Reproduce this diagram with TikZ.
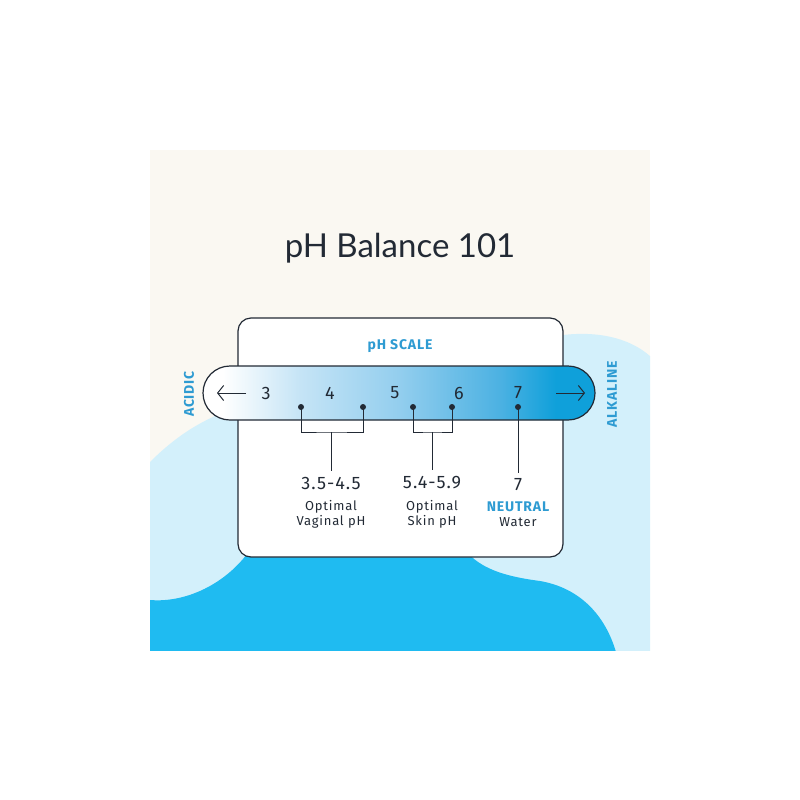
\documentclass[tikz,border=0pt]{standalone}
\usepackage{fontspec}
\setmainfont{Fira Sans}
\newfontfamily\titlefont{Lato}
\newfontfamily\scalefont[LetterSpace=6]{Fira Sans}
\usetikzlibrary{positioning, arrows.meta}

\definecolor{cream}{HTML}{FAF8F2}
\definecolor{pale}{HTML}{D3F0FB}
\definecolor{deep}{HTML}{1FBBF1}
\definecolor{ink}{HTML}{222A35}
\definecolor{tagblue}{HTML}{2E9BD2}
\definecolor{barA}{HTML}{C5E4F6}
\definecolor{barB}{HTML}{93CEEE}
\definecolor{barC}{HTML}{4BB1E2}
\definecolor{barD}{HTML}{0FA0DA}

\pgfdeclarehorizontalshading{phbar}{100bp}{color(0bp)=(white); color(27.5bp)=(white);
  color(37.4bp)=(barA); color(50bp)=(barB); color(63bp)=(barC); color(70bp)=(barD); color(100bp)=(barD)}

\tikzset{
  num/.style={font=\scalefont\fontsize{18}{20}\selectfont, text=ink},
  rangebox/.style={font=\scalefont\fontsize{18}{20}\selectfont, text=ink, inner sep=6pt},
  small/.style={font=\scalefont\fontsize{13}{15}\selectfont, text=ink},
  tag/.style={font=\scalefont\bfseries\fontsize{14}{16}\selectfont, text=tagblue},
  dot/.style={circle, fill=ink, inner sep=0pt, minimum size=6pt},
  wire/.style={draw=ink, line width=1pt},
}

\begin{document}
\begin{tikzpicture}[x=1pt, y=-1pt, node distance=15pt, on grid]
    \useasboundingbox (0,0) rectangle (800,800);

    % background panel and blobs
    \begin{scope}
        \clip (150,150) rectangle (650,650);
        \fill[cream] (150,150) rectangle (650,650);
        \fill[pale] (150,462) .. controls (180,432) and (215,410) .. (262,402)
            -- (262,650) -- (150,650) -- cycle;
        \fill[pale] (430,360) -- (520,345) .. controls (575,326) and (625,332) .. (652,358)
            -- (652,652) -- (430,652) -- cycle;
        \fill[deep] (150,600) .. controls (186,603) and (226,584) .. (250,550)
            -- (465,550) .. controls (480,568) and (502,576) .. (540,581)
            .. controls (580,588) and (605,615) .. (616,652)
            -- (150,652) -- cycle;
    \end{scope}

    \node[font=\titlefont\fontsize{33}{36}\selectfont, text=ink] (title) at (400,248) {pH Balance 101};

    % card and scale bar
    \draw[fill=white, draw=ink, line width=1.2pt, rounded corners=13pt] (238,318) rectangle (563,557);
    \shadedraw[shading=phbar, draw=ink, line width=1.2pt, rounded corners=27pt] (203,366) rectangle (595,420);

    \node[tag] (scale) at (400,346) {pH SCALE};
    \node[tag, rotate=90] (acid) at (189,394) {ACIDIC};
    \node[tag, rotate=90] (alk) at (612,394) {ALKALINE};

    \node[num] (n3) at (266,393) {3};
    \node[num] (n4) at (330,393) {4};
    \node[num] (n5) at (395,393) {5};
    \node[num] (n6) at (459,393) {6};
    \node[num] (n7) at (518,393) {7};

    \coordinate (la1) at (246,393);
    \coordinate (la2) at (217,393);
    \coordinate (ra1) at (556,393);
    \coordinate (ra2) at (585,393);
    \draw[wire, -{Straight Barb[length=6pt, width=15pt]}] (la1) -- (la2);
    \draw[wire, -{Straight Barb[length=6pt, width=15pt]}] (ra1) -- (ra2);

    % markers
    \node[dot] (d35) at (301,407) {};
    \node[dot] (d45) at (363,407) {};
    \node[dot] (d54) at (413,407) {};
    \node[dot] (d59) at (452,407) {};
    \node[dot] (d7) at (518,407) {};

    % labels
    \node[rangebox] (vr) at (331,483) {3.5-4.5};
    \node[small] (vo) [below=24pt of vr] {Optimal};
    \node[small] (vp) [below=15pt of vo] {Vaginal pH};
    \node[rangebox] (sr) at (432,483) {5.4-5.9};
    \node[small] (so) [below=24pt of sr] {Optimal};
    \node[small] (sp) [below=15pt of so] {Skin pH};
    \node[rangebox] (wr) at (518,485) {7};
    \node[tag] (wn) [below=22pt of wr] {NEUTRAL};
    \node[small] (ww) [below=15pt of wn] {Water};

    % brackets
    \coordinate (vb) at (331,432);
    \coordinate (sb) at (432,432);
    \draw[wire] (d35.center) |- (vb) -| (d45.center);
    \draw[wire] (vb) -- (vr.north);
    \draw[wire] (d54.center) |- (sb) -| (d59.center);
    \draw[wire] (sb) -- (sr.north);
    \draw[wire] (d7.center) -- (wr.north);
\end{tikzpicture}
\end{document}
